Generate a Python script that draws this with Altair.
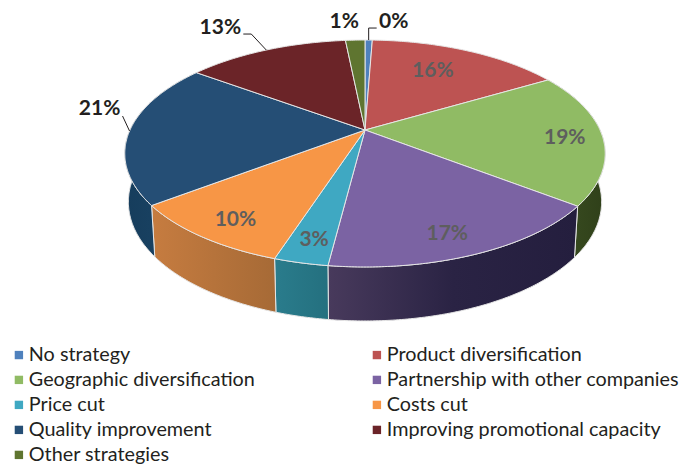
import math
import altair as alt

categories = ["No strategy", "Product diversification", "Geographic diversification",
              "Partnership with other companies", "Price cut", "Costs cut",
              "Quality improvement", "Improving promotional capacity", "Other strategies"]
shares = [0.6, 15.9, 19.0, 16.5, 3.0, 9.6, 20.5, 13.3, 1.6]
labels = ["0%", "16%", "19%", "17%", "3%", "10%", "21%", "13%", "1%"]
colors = ["#4f81bd", "#bd5352", "#90bb64", "#7b63a3", "#3fa8c2", "#f79646", "#254e75", "#6b2428", "#5f7530"]
wall_colors = {
    2: ["#3d5024", "#2f4019"],
    3: ["#483a5c", "#2a2344", "#241e3e"],
    4: ["#2a7c8c", "#24707f"],
    5: ["#c67c40", "#a66a36"],
    6: ["#163d5c", "#1c4668"],
}
# layout constants of the tilted disc
CX, CY, RX, RY, TILT = 357.0, 122.0, 235.0, 108.6, -0.207
FONT = "Lato"

def rim(theta, r=1.0):
    u, v = r * math.sin(theta), -r * math.cos(theta)
    w = 1 + TILT * v
    return CX + RX * u / w, CY + RY * v / w

def low(theta):
    x, y = rim(theta)
    v = -math.cos(theta)
    return CX + (x - CX) * 0.985, y + 47 + 7 * v

def arc(a0, a1, f):
    n = max(2, int(abs(a1 - a0) / 0.01))
    return [list(f(a0 + (a1 - a0) * i / n)) for i in range(n + 1)]

def feat(kind, coords, name=""):
    return {"type": "Feature", "properties": {"name": name},
            "geometry": {"type": kind, "coordinates": coords}}

edges = [0.0]
for s in shares:
    edges.append(edges[-1] + s)
ang = [e / 100 * 2 * math.pi for e in edges]
mid = [(ang[i] + ang[i + 1]) / 2 for i in range(len(shares))]

layers = []
for i, cols in wall_colors.items():
    top = arc(ang[i], ang[i + 1], rim)
    bot = arc(ang[i + 1], ang[i], low)
    ring = top + bot + [top[0]]
    stops = [{"offset": k / (len(cols) - 1), "color": c} for k, c in enumerate(cols)]
    layers.append(
        alt.Chart(alt.Data(values=[feat("Polygon", [ring])])).mark_geoshape(
            fill={"gradient": "linear", "x1": 0, "x2": 1, "y1": 0, "y2": 0, "stops": stops},
            stroke="#e6e6e6", strokeWidth=1)
    )

faces = []
for i, name in enumerate(categories):
    ring = [[CX, CY]] + arc(ang[i], ang[i + 1], rim) + [[CX, CY]]
    faces.append(feat("Polygon", [ring], name))

layers.append(
    alt.Chart(alt.Data(values=faces)).mark_geoshape(stroke="#e6e6e6", strokeWidth=1).encode(
        color=alt.Color("properties.name:N",
                        scale=alt.Scale(domain=categories, range=colors),
                        sort=categories,
                        legend=alt.Legend(title=None, orient="none", legendX=1, legendY=337,
                                          direction="horizontal",
                                          columns=2, symbolType="square", symbolSize=70,
                                          symbolStrokeWidth=0, labelFont=FONT, labelFontSize=19.8,
                                          labelColor="#231f20", labelLimit=340, rowPadding=4,
                                          columnPadding=112, labelOffset=0, symbolOffset=0))
    )
)

# label placement: radial fraction and offset from the anchor
inner = {1: (0.70, -7, -1), 2: (0.83, 3, 2), 3: (0.85, -9, 2), 4: (0.80, -2, 9), 5: (0.80, -4, 8)}
outer = {0: ((0, -12), (8, -12), (25, -18)),
         6: ((-7, -15), None, (-30, -22)),
         7: ((-15, -16), (-23, -16), (-46, -22)),
         8: (None, None, (-11, -18))}

in_rows, out_rows, leaders = [], [], []
for i, (r, dx, dy) in inner.items():
    x, y = rim(mid[i], r)
    in_rows.append({"t": labels[i], "x": x + dx, "y": y + dy})
for i, (a, b, off) in outer.items():
    x, y = rim(mid[i])
    out_rows.append({"t": labels[i], "x": x + off[0], "y": y + off[1]})
    if a:
        pts = [[x, y], [x + a[0], y + a[1]]]
        if b:
            pts.append([x + b[0], y + b[1]])
        leaders.append(feat("LineString", pts))

layers.append(alt.Chart(alt.Data(values=leaders)).mark_geoshape(
    filled=False, stroke="#231f20", strokeWidth=1))

layers.append(alt.Chart(alt.Data(values=in_rows)).mark_text(
    font=FONT, fontSize=21, fontWeight="bold", color="#5e5e5e").encode(
    longitude="x:Q", latitude="y:Q", text="t:N"))
layers.append(alt.Chart(alt.Data(values=out_rows)).mark_text(
    font=FONT, fontSize=21, fontWeight="bold", color="#231f20").encode(
    longitude="x:Q", latitude="y:Q", text="t:N"))

chart = alt.layer(*layers).project(type="identity", scale=1, translate=[0, 0]).properties(
    width=674, height=457, padding=0, autosize="none",
    background="white").configure_view(stroke=None)

chart.save("out.html", embed_options={"renderer": "svg", "actions": False})
